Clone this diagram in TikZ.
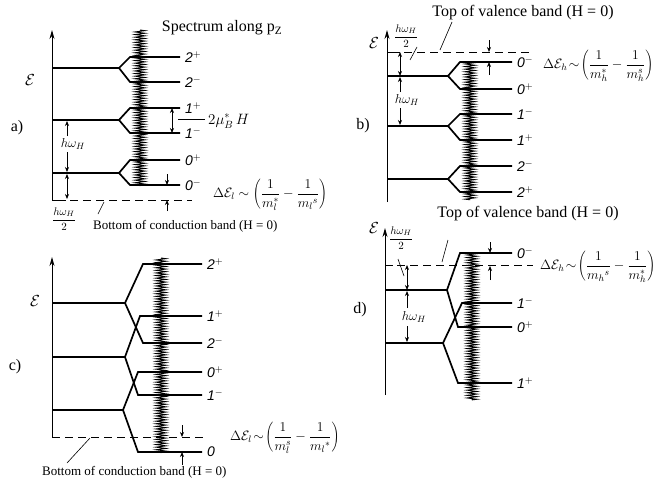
\RequirePackage{fix-cm}
\documentclass[tikz,border=0pt]{standalone}
\usepackage{fontspec}
\setmainfont{Liberation Serif}
\setsansfont{Liberation Sans}
\usetikzlibrary{decorations.pathmorphing,arrows.meta}
\newcommand\myfork[7]{%
  \draw[lev] (#1,#5) -- (#2,#5);
  \draw[lev] (#4,#6) -- (#3,#6) -- (#2,#5) -- (#3,#7) -- (#4,#7);}
\newcommand\dfr[2]{{\displaystyle\frac{#1}{#2}}}
\begin{document}
\begin{tikzpicture}[x=1pt,y=-1pt,
 lev/.style={line width=1.7pt, line join=miter},
 ax/.style={line width=0.9pt,-{Stealth[length=9pt,width=5pt]}},
 axl/.style={line width=0.9pt},
 zz/.style={decorate,decoration={zigzag,segment length=2.6pt,amplitude=5pt},line width=0.9pt},
 dsh/.style={dash pattern=on 8pt off 5pt, line width=0.9pt},
 tip/.style={line width=0.7pt,-{Stealth[length=5pt,width=4pt]}},
 dtip/.style={line width=0.7pt,{Stealth[length=5pt,width=4pt]}-{Stealth[length=5pt,width=4pt]}},
 lead/.style={line width=0.6pt},
 lab/.style={font=\sffamily\itshape\fontsize{14}{14}\selectfont, anchor=west, inner sep=0pt},
 txt/.style={font=\fontsize{13}{15}\selectfont, inner sep=0pt},
 txtb/.style={font=\fontsize{16}{18}\selectfont, inner sep=0pt},
 frm/.style={font=\fontsize{13.5}{15}\selectfont, inner sep=0pt, anchor=west},
 pan/.style={font=\fontsize{16}{18}\selectfont, inner sep=0pt},
 eps/.style={font=\fontsize{16}{18}\selectfont, inner sep=0pt},
 sm/.style={font=\fontsize{13}{14}\selectfont, inner sep=0pt},
 hf/.style={font=\fontsize{11}{12}\selectfont, inner sep=0pt},
]
\useasboundingbox (0,0) rectangle (662,490);

% ---------------- panel a ----------------
\draw[ax] (52,200) -- (52,30);
\draw[axl] (52,200) -- (66,200);
\draw[dsh] (70,200) -- (192,200);
\myfork{52}{119}{130}{180}{68}{57}{82}
\myfork{52}{119}{130}{180}{120}{108}{133}
\myfork{52}{119}{130}{180}{173}{160}{185}
\draw[zz] (140,30) -- (140,186);
\node[lab] (a2p) at (185,57) {2$^+$};
\node[lab] (a2m) at (185,82) {2$^-$};
\node[lab] (a1p) at (185,108) {1$^+$};
\node[lab] (a1m) at (185,133) {1$^-$};
\node[lab] (a0p) at (185,160) {0$^+$};
\node[lab] (a0m) at (185,185) {0$^-$};
\draw[dtip] (172,108) -- (172,133);
\draw[lead] (178,119) -- (205,119);
\node[frm, font=\fontsize{15}{17}\selectfont] (amu) at (208,121) {$2\mu^{*}_{B}\,H$};
\node[sm] (ahw) at (73,144) {$h\omega_H$};
\draw[tip] (67,136) -- (67,121);
\draw[tip] (67,152) -- (67,172);
\draw[dtip] (67,174) -- (67,199);
\draw[tip] (167,174) -- (167,185);
\draw[tip] (167,211) -- (167,200);
\node[frm] (ade) at (213,195) {$\Delta\mathcal{E}_l\sim\left(\dfr{1}{m_l^{*}}-\dfr{1}{m_l{}^{s}}\right)$};
\node[hf] (ahalf) at (64,219) {$\dfr{h\omega_H}{2}$};
\node[txt, anchor=west] (abot) at (93,226) {Bottom of conduction band (H = 0)};
\draw[lead] (104,202) -- (98,214);
\node[pan] (alab) at (17,128) {a)};
\node[eps] (aeps) at (30,80) {$\mathcal{E}$};
\node[txtb] (aspec) at (222,28) {Spectrum along p$_{\mathrm{Z}}$};

% ---------------- panel b ----------------
\draw[ax] (387,202) -- (387,30);
\draw[axl] (387,52) -- (400,52);
\draw[dsh] (404,52) -- (533,52);
\myfork{387}{448}{460}{512}{76}{62}{89}
\myfork{387}{448}{460}{512}{126}{114}{140}
\myfork{387}{448}{460}{512}{179}{166}{192}
\draw[zz] (470,62) -- (470,200);
\node[lab] (b0m) at (517,62) {0$^-$};
\node[lab] (b0p) at (517,89) {0$^+$};
\node[lab] (b1m) at (517,114) {1$^-$};
\node[lab] (b1p) at (517,140) {1$^+$};
\node[lab] (b2m) at (517,166) {2$^-$};
\node[lab] (b2p) at (517,192) {2$^+$};
\draw[dtip] (400,52) -- (400,76);
\node[sm] (bhw) at (407,100) {$h\omega_H$};
\draw[tip] (400,92) -- (400,77);
\draw[tip] (400,108) -- (400,125);
\node[hf] (bhalf) at (406,36) {$\dfr{h\omega_H}{2}$};
\draw[lead] (417,47) -- (410,60);
\node[txtb] (btop) at (523,13) {Top of valence band (H = 0)};
\draw[lead] (452,22) -- (440,50);
\draw[tip] (489,40) -- (489,52);
\draw[tip] (489,75) -- (489,62);
\node[frm] (bde) at (543,66) {$\Delta\mathcal{E}_h\!\sim\!\left(\dfr{1}{m_h^{*}}-\dfr{1}{m_h^{s}}\right)$};
\node[pan] (blab) at (363,126) {b)};
\node[eps] (beps) at (374,43) {$\mathcal{E}$};

% ---------------- panel c ----------------
\draw[ax] (52,437) -- (52,257);
\draw[dsh] (52,437) -- (205,437);
\draw[lev] (52,303) -- (125,303);
\draw[lev] (202,264) -- (143,264) -- (125,303) -- (143,343) -- (202,343);
\draw[lev] (52,357) -- (125,357);
\draw[lev] (202,316) -- (140,316) -- (125,357) -- (138,395) -- (202,395);
\draw[lev] (52,410) -- (123,410);
\draw[lev] (202,372) -- (138,372) -- (123,410) -- (138,452) -- (202,452);
\draw[zz] (161,258) -- (161,453);
\node[lab] (c2p) at (207,264) {2$^+$};
\node[lab] (c1p) at (207,316) {1$^+$};
\node[lab] (c2m) at (207,343) {2$^-$};
\node[lab] (c0p) at (207,372) {0$^+$};
\node[lab] (c1m) at (207,395) {1$^-$};
\node[lab] (c0) at (207,452) {0};
\draw[tip] (182,425) -- (182,437);
\draw[tip] (182,465) -- (182,452);
\node[frm] (cde) at (230,438) {$\Delta\mathcal{E}_l\!\sim\!\left(\dfr{1}{m_l^{s}}-\dfr{1}{m_l{}^{*}}\right)$};
\node[txt, anchor=west] (cbot) at (42,472) {Bottom of conduction band (H = 0)};
\draw[lead] (90,438) -- (67,463);
\node[pan] (clab) at (15,367) {c)};
\node[eps] (ceps) at (35,301) {$\mathcal{E}$};

% ---------------- panel d ----------------
\draw[ax] (385,395) -- (385,228);
\draw[axl] (385,265) -- (393,265);
\draw[dsh] (397,265) -- (533,265);
\draw[lev] (385,290) -- (447,290);
\draw[lev] (512,253) -- (460,253) -- (447,290) -- (458,327) -- (512,327);
\draw[lev] (385,343) -- (443,343);
\draw[lev] (512,303) -- (462,303) -- (443,343) -- (458,383) -- (512,383);
\draw[zz] (472,253) -- (472,400);
\node[lab] (d0m) at (517,253) {0$^-$};
\node[lab] (d1m) at (517,303) {1$^-$};
\node[lab] (d0p) at (517,327) {0$^+$};
\node[lab] (d1p) at (517,383) {1$^+$};
\draw[dtip] (407,265) -- (407,290);
\node[sm] (dhw) at (414,317) {$h\omega_H$};
\draw[tip] (407,308) -- (407,291);
\draw[tip] (407,326) -- (407,342);
\node[hf] (dhalf) at (401,238) {$\dfr{h\omega_H}{2}$};
\draw[lead] (398,259) -- (404,276);
\node[txtb] (dtop) at (528,214) {Top of valence band (H = 0)};
\draw[lead] (448,240) -- (442,262);
\draw[tip] (490,242) -- (490,253);
\draw[tip] (490,280) -- (490,266);
\node[frm] (dde) at (540,267) {$\Delta\mathcal{E}_h\!\sim\!\left(\dfr{1}{m_h{}^{s}}-\dfr{1}{m_h^{*}}\right)$};
\node[pan] (dlab) at (360,310) {d)};
\node[eps] (deps) at (374,228) {$\mathcal{E}$};
\end{tikzpicture}
\end{document}
